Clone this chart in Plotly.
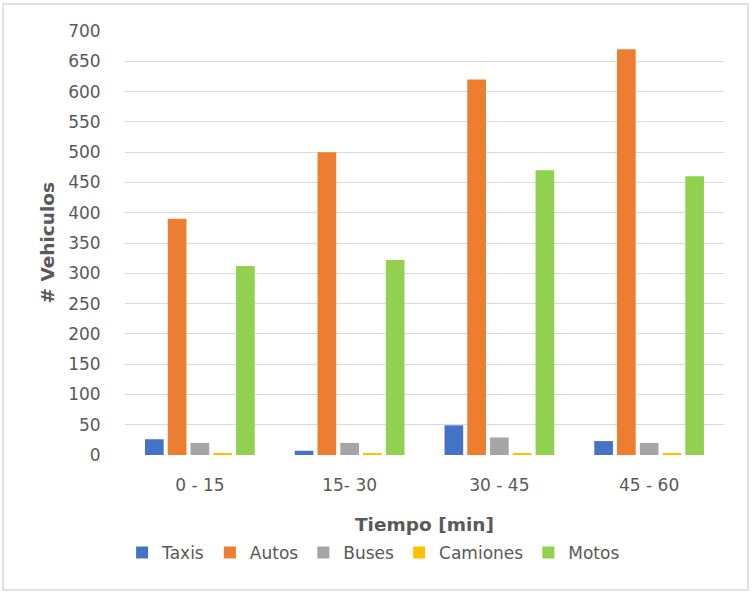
import plotly.graph_objects as go

categories = ["0 - 15", "15- 30", "30 - 45", "45 - 60"]
series_names = ["Taxis", "Autos", "Buses", "Camiones", "Motos"]
taxis = [26, 7, 49, 23]
autos = [390, 500, 620, 670]
buses = [20, 20, 29, 20]
camiones = [3, 3, 3, 3]
motos = [312, 322, 470, 460]
y_ticks = list(range(0, 701, 50))

colors = ["#4472C4", "#ED7D31", "#A5A5A5", "#FFC000", "#92D050"]
values = [taxis, autos, buses, camiones, motos]

FONT = "DejaVu Sans"
GREY = "#595959"

fig = go.Figure()
for name, vals, col in zip(series_names, values, colors):
    fig.add_trace(go.Bar(name=name, x=categories, y=vals, marker=dict(color=col, line=dict(width=0))))

fig.update_layout(
    width=752, height=593,
    margin=dict(l=125, r=28, t=31, b=138),
    paper_bgcolor="white", plot_bgcolor="white",
    barmode="group", bargap=0.24, bargroupgap=0.18,
    font=dict(family=FONT, size=17, color=GREY),
    showlegend=True,
    legend=dict(orientation="h", x=0.415, xanchor="center", y=-0.231, yanchor="middle",
                font=dict(family=FONT, size=17, color=GREY), itemclick=False,
                traceorder="normal"),
    xaxis=dict(showgrid=False, showline=False, zeroline=False,
               ticks="outside", ticklen=15, tickcolor="rgba(0,0,0,0)",
               tickfont=dict(family=FONT, size=17, color=GREY)),
    yaxis=dict(range=[0, 700], tickvals=y_ticks, showgrid=True, gridcolor="#D9D9D9", gridwidth=1,
               zeroline=False, showline=False,
               ticks="outside", ticklen=20, tickcolor="rgba(0,0,0,0)",
               tickfont=dict(family=FONT, size=17, color=GREY)),
    annotations=[
        dict(text="<b>Tiempo [min]</b>", xref="paper", yref="paper", x=0.5, y=-0.165,
             xanchor="center", yanchor="middle", showarrow=False,
             font=dict(family=FONT, size=18.5, color=GREY)),
        dict(text="<b># Vehiculos</b>", xref="paper", yref="paper", x=-0.131, y=0.5,
             xanchor="center", yanchor="middle", showarrow=False, textangle=-90,
             font=dict(family=FONT, size=18.5, color=GREY)),
    ],
    shapes=[
        dict(type="rect", xref="paper", yref="paper", x0=-0.2037, x1=1.040, y0=-0.3184, y1=1.0637,
             line=dict(color="#D9D9D9", width=1.5), fillcolor="rgba(0,0,0,0)", layer="below"),
    ],
)

fig.write_html("out.html", config={"displayModeBar": False},
               post_script="document.body.style.margin='0';")
